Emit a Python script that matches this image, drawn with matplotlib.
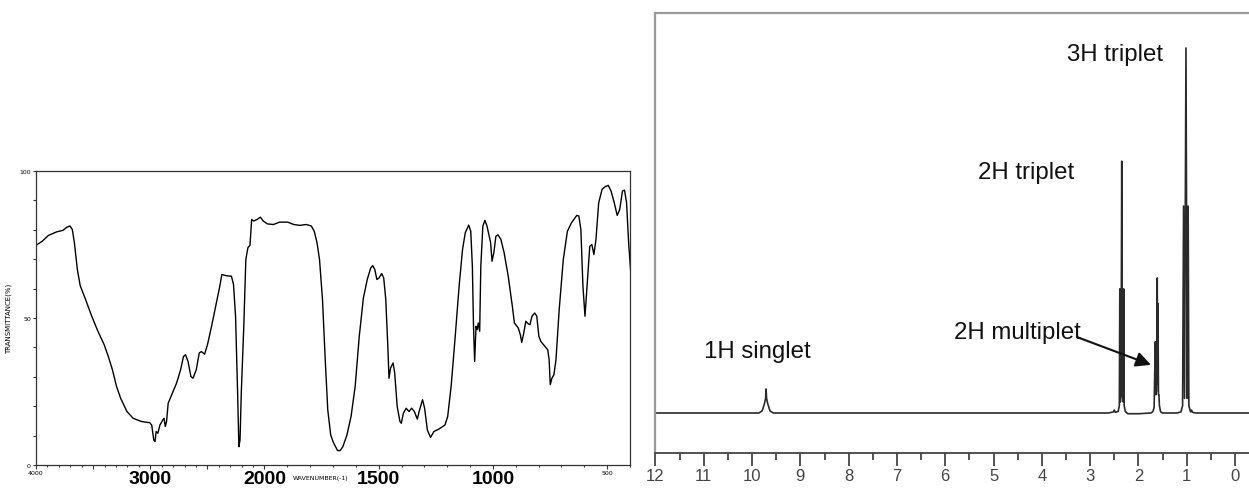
import numpy as np
import matplotlib
matplotlib.use("Agg")
import matplotlib.pyplot as plt
from matplotlib.ticker import FixedLocator, NullFormatter

# ---------------- IR spectrum data (wavenumber cm-1, %T) ----------------
ir_wavenumber = [4000, 3946, 3891, 3819, 3765, 3729, 3703, 3682, 3664, 3638, 3613, 3566,
                 3512, 3458, 3403, 3367, 3331, 3295, 3259, 3204, 3150, 3078, 3005, 2987,
                 2969, 2958, 2948, 2933, 2915, 2890, 2879, 2868, 2857, 2843, 2807, 2770,
                 2734, 2709, 2691, 2669, 2644, 2626, 2597, 2571, 2553, 2524, 2499, 2463,
                 2427, 2391, 2373, 2336, 2289, 2271, 2253, 2235, 2224, 2214, 2203, 2181,
                 2163, 2145, 2127, 2112, 2094, 2065, 2036, 2011, 1987, 1961, 1934, 1898,
                 1872, 1845, 1818, 1795, 1782, 1770, 1759, 1746, 1734, 1723, 1710, 1698,
                 1680, 1669, 1657, 1639, 1621, 1603, 1585, 1567, 1550, 1535, 1526, 1517,
                 1508, 1499, 1487, 1478, 1469, 1460, 1455, 1448, 1437, 1430, 1419, 1407,
                 1401, 1392, 1380, 1367, 1356, 1344, 1331, 1323, 1308, 1299, 1287, 1273,
                 1258, 1237, 1210, 1198, 1183, 1165, 1148, 1133, 1121, 1106, 1097, 1090,
                 1085, 1080, 1074, 1069, 1064, 1058, 1053, 1044, 1035, 1026, 1017, 1010,
                 1004, 996, 987, 978, 965, 951, 933, 915, 906, 889, 880, 874, 865, 856,
                 847, 838, 829, 817, 808, 799, 790, 772, 760, 754, 749, 742, 733, 724,
                 710, 692, 674, 656, 633, 624, 615, 606, 597, 588, 576, 567, 558, 549,
                 537, 522, 508, 495, 483, 469, 456, 445, 433, 424, 415, 406, 397]
ir_transmittance = [74.7, 76.1, 78.1, 79.3, 79.8, 80.9, 81.3, 80.1, 75.6, 66.5, 61.0, 56.3,
                    50.6, 45.5, 40.9, 36.9, 32.4, 26.7, 22.7, 18.2, 15.9, 14.8, 14.4, 13.6,
                    8.5, 8.0, 11.4, 10.8, 13.6, 15.3, 15.9, 13.1, 14.8, 21.0, 24.4, 27.8,
                    32.4, 36.9, 37.5, 35.2, 30.1, 29.5, 32.4, 38.1, 38.6, 37.7, 40.9, 47.2,
                    54.0, 60.8, 64.8, 64.4, 64.2, 61.4, 50.6, 24.4, 6.2, 8.5, 24.4, 47.2,
                    69.9, 73.9, 74.7, 83.5, 83.0, 83.5, 84.3, 83.0, 82.0, 81.8, 82.6, 82.6,
                    81.8, 81.5, 81.8, 81.3, 79.5, 75.6, 69.9, 56.3, 35.8, 18.8, 10.2, 7.6,
                    4.9, 4.9, 6.2, 10.2, 16.5, 26.7, 43.8, 56.8, 63.1, 67.0, 67.8, 66.5,
                    63.1, 63.6, 65.1, 63.6, 56.3, 40.3, 29.5, 33.0, 34.7, 31.3, 19.9, 14.8,
                    14.2, 17.6, 19.3, 18.2, 19.3, 18.2, 15.6, 18.2, 22.2, 19.3, 11.9, 9.4,
                    11.4, 12.2, 13.6, 16.5, 26.7, 43.8, 60.8, 73.3, 79.0, 81.6, 79.5, 67.6,
                    47.2, 35.2, 47.2, 46.0, 48.3, 45.5, 67.6, 81.3, 83.2, 81.3, 78.1, 75.6,
                    69.3, 72.2, 77.8, 78.3, 76.7, 72.2, 64.2, 54.0, 48.3, 46.6, 44.3, 41.7, 44.9, 48.9,
                    48.1, 47.7, 50.6, 51.7, 50.6, 43.8, 42.0, 40.3, 39.2, 35.8, 27.3, 29.5, 30.7, 35.8,
                    52.8, 69.9, 79.5, 82.4, 84.9, 84.7, 80.1, 60.8, 50.6, 60.8, 74.4, 75.0, 71.6, 76.7,
                    89.2, 93.8, 94.7, 95.1, 93.2, 89.2, 84.9, 86.9, 93.2, 93.5, 89.2, 75.6, 65.9]

ir_major_ticks = [4000, 3500, 3000, 2500, 2000, 1500, 1000, 500]
ir_major_labels = ["4000", "", "3000", "", "2000", "1500", "1000", "500"]
ir_big_labels = ["3000", "2000", "1500", "1000"]
ir_y_ticks = [0, 10, 20, 30, 40, 50, 60, 70, 80, 90, 100]
ir_y_labels = ["0", "", "", "", "", "50", "", "", "", "", "100"]

# ---------------- 1H NMR spectrum data (ppm, intensity) ----------------
nmr_ppm = [12.1, 9.86, 9.79, 9.745, 9.72, 9.71, 9.70, 9.675, 9.63, 9.56,
           2.62, 2.52, 2.50, 2.48, 2.42, 2.395, 2.385, 2.375, 2.36, 2.345, 2.33, 2.315,
           2.305, 2.295, 2.27, 2.22, 2.0, 1.74, 1.70, 1.675, 1.65, 1.64, 1.625, 1.61,
           1.60, 1.595, 1.585, 1.575, 1.565, 1.54, 1.50, 1.2, 1.12, 1.085, 1.065, 1.045,
           1.015, 0.99, 0.97, 0.955, 0.92, 0.90, 0.88, 0.82, -0.4]
nmr_intensity = [0, 0, 0.6, 2.5, 4.0, 6.6, 4.0, 2.5, 0.6, 0,
                 0, 0.3, 0.8, 0.2, 0.4, 2.0, 34, 3, 5, 69, 5, 3,
                 34, 2.0, 0.4, -0.2, -0.2, 0, 0.4, 1.5, 19.5, 5, 6, 37,
                 8, 30, 5, 5, 2, 0.3, 0, 0, 0.3, 2, 56.7, 4,
                 100, 4, 56.7, 2, 0.3, 0.8, 0.2, 0, 0]

nmr_ticks_major = list(range(0, 13))
nmr_ticks_minor = [x + 0.5 for x in range(0, 12)]

nmr_labels = ["3H triplet", "2H triplet", "2H multiplet", "1H singlet"]
nmr_label_pos = [(3.48, 96.7), (5.32, 64.4), (5.82, 20.5), (10.99, 15.3)]
arrow_tail = (3.27, 20.8)
arrow_head = (1.74, 13.2)

W, H = 1249, 489
PT = 0.72  # points per pixel at 100 dpi
fig = plt.figure(figsize=(W / 100, H / 100), dpi=100)


def px_rect(x0, y0, x1, y1):
    return [x0 / W, 1 - y1 / H, (x1 - x0) / W, (y1 - y0) / H]


# ---------------- IR panel ----------------
ax1 = fig.add_axes(px_rect(36, 172, 630, 466))


def fwd(w):
    w = np.asarray(w, dtype=float)
    return np.where(w <= 2000, w, 2000 + (w - 2000) / 2.0)


def inv(u):
    u = np.asarray(u, dtype=float)
    return np.where(u <= 2000, u, 2000 + 2.0 * (u - 2000))


ax1.set_xscale('function', functions=(fwd, inv))
ax1.plot(ir_wavenumber, ir_transmittance, color='black', lw=1.0)
ax1.set_xlim(4000, 400)
ax1.set_ylim(0, 100)
for s in ax1.spines.values():
    s.set_color('#333333')
    s.set_linewidth(0.9)

ax1.xaxis.set_major_locator(FixedLocator(ir_major_ticks))
ax1.set_xticklabels(ir_major_labels)
ax1.xaxis.set_minor_locator(FixedLocator(list(range(400, 4001, 100))))
ax1.xaxis.set_minor_formatter(NullFormatter())
ax1.tick_params(axis='x', which='major', direction='out', length=4 * PT, width=0.8,
                color='#333333', pad=0.5)
ax1.tick_params(axis='x', which='minor', direction='out', length=2 * PT, width=0.8,
                color='#333333')
for lab in ax1.get_xticklabels():
    if lab.get_text() in ir_big_labels:
        lab.set_fontsize(14)
        lab.set_fontweight('bold')
        lab.set_fontfamily(['Liberation Sans Narrow', 'Liberation Sans', 'DejaVu Sans'])
    else:
        lab.set_fontsize(4.5)
        lab.set_fontfamily('DejaVu Sans')
ax1.set_yticks(ir_y_ticks)
ax1.set_yticklabels(ir_y_labels, fontsize=4.5)
ax1.tick_params(axis='y', direction='out', length=3 * PT, width=0.8, color='#333333', pad=1.5)
ax1.set_ylabel("TRANSMITTANCE(%)", fontsize=5)
ax1.yaxis.set_label_coords(-(36 - 12) / 594, 0.5)
fig.text(321 / W, 1 - 479 / H, "WAVENUMBER(-1)", fontsize=4.5, ha='center', va='center')

# ---------------- NMR panel ----------------
ax2 = fig.add_axes(px_rect(655, 14, 1249, 454))
ax2.plot(nmr_ppm, nmr_intensity, color='#2a2a2a', lw=1.2)
ax2.set_xlim(12.01, -0.29)
ax2.set_ylim(-10.96, 109.6)
ax2.spines['right'].set_visible(False)
ax2.spines['top'].set_color('#999999')
ax2.spines['left'].set_color('#999999')
ax2.spines['top'].set_linewidth(1.6)
ax2.spines['left'].set_linewidth(1.6)
ax2.spines['bottom'].set_color('#444444')
ax2.spines['bottom'].set_linewidth(1.3)
ax2.set_yticks([])
ax2.set_xticks(nmr_ticks_major)
ax2.set_xticks(nmr_ticks_minor, minor=True)
ax2.tick_params(axis='x', which='major', direction='out', length=13 * PT, width=1.3,
                color='#444444', labelsize=12, labelcolor='#444444', pad=1.5)
ax2.tick_params(axis='x', which='minor', direction='out', length=7 * PT, width=1.3,
                color='#444444')
for lab in ax2.get_xticklabels():
    lab.set_fontfamily('Liberation Sans')

for txt, (x, y) in zip(nmr_labels, nmr_label_pos):
    ax2.text(x, y, txt, fontsize=17.3, ha='left', va='baseline', color='#111111',
             family='Liberation Sans')
ax2.annotate("", xy=arrow_head, xytext=arrow_tail,
             arrowprops=dict(arrowstyle='-|>,head_length=0.9,head_width=0.45',
                             color='#111111', lw=1.5, shrinkA=0, shrinkB=0))

fig.savefig("out.png", dpi=100)
